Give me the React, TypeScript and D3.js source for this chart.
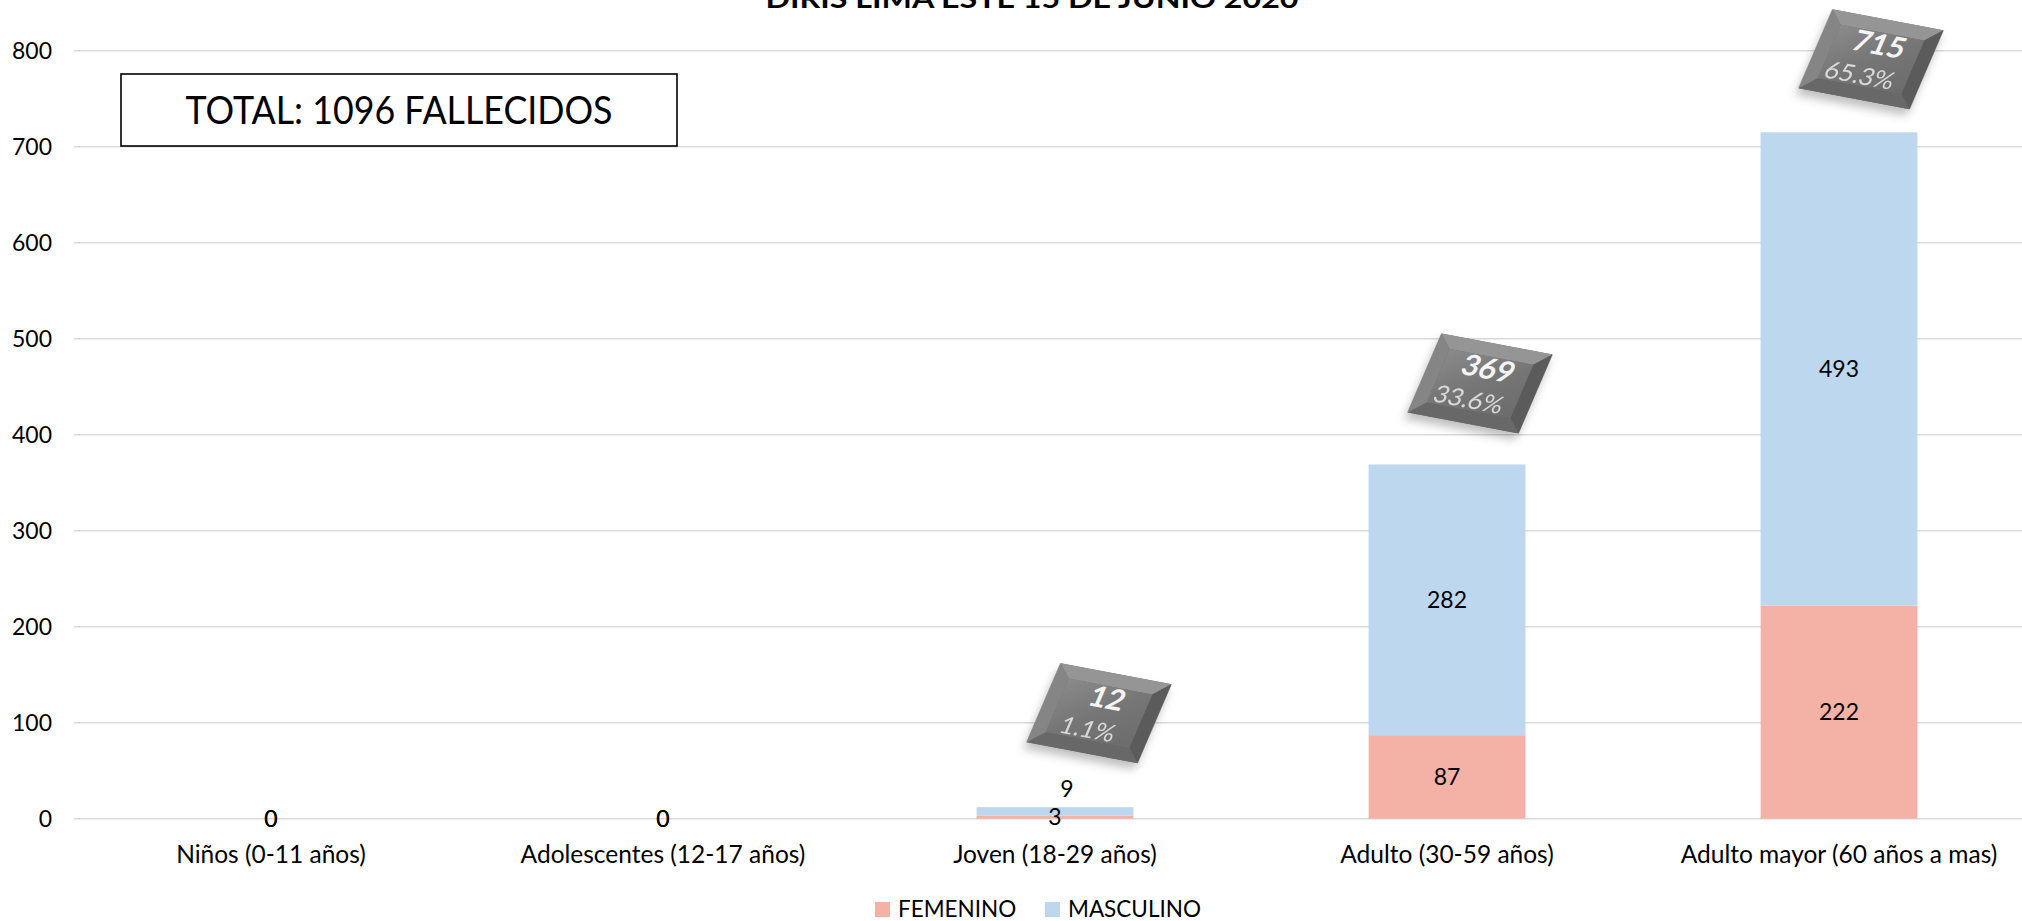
import React from "react";
import * as d3 from "d3";

// ---------- data ----------
const categories = [
  "Niños (0-11 años)",
  "Adolescentes (12-17 años)",
  "Joven (18-29 años)",
  "Adulto (30-59 años)",
  "Adulto mayor (60 años a mas)",
];
const femenino = [0, 0, 3, 87, 222];
const masculino = [0, 0, 9, 282, 493];
const percentLabels = ["0.0%", "0.0%", "1.1%", "33.6%", "65.3%"];
const seriesNames = ["FEMENINO", "MASCULINO"];
const yTicks = [0, 100, 200, 300, 400, 500, 600, 700, 800];
const titleText = "DIRIS LIMA ESTE 15 DE JUNIO 2020";
const totalNote = "TOTAL: 1096 FALLECIDOS";

// ---------- layout / style ----------
const W = 2022;
const H = 921;
const FONT = "Lato, 'Open Sans', sans-serif";
const COLORS: Record<string, string> = { FEMENINO: "#F4B2A6", MASCULINO: "#BDD7EE" };
const GRID = "#d9d9d9";
// callout placement relative to the top-center of each bar
const calloutOffset = [
  { dx: 0, dy: 0 },
  { dx: 0, dy: 0 },
  { dx: 44, dy: -94 },
  { dx: 33, dy: -81 },
  { dx: 32, dy: -73 },
];
// manual nudges of single data labels (category index - series index)
const labelNudge: Record<string, { dx: number; dy: number }> = {
  "2-1": { dx: 12, dy: -23 },
};

export default function App() {
  const x = d3.scaleBand<string>().domain(categories).range([75, 2035]).paddingInner(0.6).paddingOuter(0.3);
  const y = d3.scaleLinear().domain([0, 800]).range([818.7, 50.7]);

  const rows = categories.map((c, i) => ({ cat: c, FEMENINO: femenino[i], MASCULINO: masculino[i] }));
  const stacked = d3.stack<any>().keys(seriesNames)(rows);
  const totals = categories.map((_, i) => femenino[i] + masculino[i]);

  const bw = x.bandwidth();
  const CW = 113;
  const CH = 86;
  const B = 14;
  const o = { tl: [-CW / 2, -CH / 2], tr: [CW / 2, -CH / 2], br: [CW / 2, CH / 2], bl: [-CW / 2, CH / 2] };
  const i_ = {
    tl: [-CW / 2 + B, -CH / 2 + B],
    tr: [CW / 2 - B, -CH / 2 + B],
    br: [CW / 2 - B, CH / 2 - B],
    bl: [-CW / 2 + B, CH / 2 - B],
  };
  const poly = (pts: number[][]) => pts.map((p) => p.join(",")).join(" ");

  return (
    <svg
      width={W}
      height={H}
      style={{ position: "absolute", left: 0, top: 0, background: "#fff" }}
      fontFamily={FONT}
    >
      <defs>
        <linearGradient id="face" x1="0" y1="0" x2="1" y2="1">
          <stop offset="0" stopColor="#8a8a8a" />
          <stop offset="0.5" stopColor="#767676" />
          <stop offset="1" stopColor="#6c6c6c" />
        </linearGradient>
        <filter id="shadow" x="-30%" y="-30%" width="160%" height="170%">
          <feDropShadow dx="0" dy="7" stdDeviation="5" floodColor="#000" floodOpacity="0.25" />
        </filter>
      </defs>

      {/* title (cut at top, as in the source) */}
      <text x={1032} y={8} textAnchor="middle" fontWeight="bold" fontSize={27} textLength={533} lengthAdjust="spacingAndGlyphs" fill="#000">
        {titleText}
      </text>

      {/* gridlines */}
      {yTicks.map((t) => (
        <line key={t} x1={74} x2={W} y1={y(t)} y2={y(t)} stroke={GRID} strokeWidth={1.6} />
      ))}
      {/* y tick labels */}
      {yTicks.map((t) => (
        <text key={"yt" + t} x={52} y={y(t)} dy="0.35em" textAnchor="end" fontSize={23} fill="#000">
          {t}
        </text>
      ))}

      {/* bars */}
      {stacked.map((s) =>
        s.map((d, i) => (
          <rect
            key={s.key + i}
            x={x(categories[i])!}
            y={y(d[1])}
            width={bw}
            height={Math.max(0, y(d[0]) - y(d[1]))}
            fill={COLORS[s.key]}
          />
        ))
      )}

      {/* data labels */}
      {stacked.map((s, si) =>
        s.map((d, i) => {
          const nudge = labelNudge[`${i}-${si}`] || { dx: 0, dy: 0 };
          const cx = x(categories[i])! + bw / 2 + nudge.dx;
          const cy = (y(d[0]) + y(d[1])) / 2 + nudge.dy;
          return (
            <text key={"l" + s.key + i} x={cx} y={cy} dy="0.35em" textAnchor="middle" fontSize={23} fill="#000">
              {d[1] - d[0]}
            </text>
          );
        })
      )}

      {/* category labels */}
      {categories.map((c) => (
        <text key={"c" + c} x={x(c)! + bw / 2} y={863} textAnchor="middle" fontSize={24.5} fill="#000">
          {c}
        </text>
      ))}

      {/* callouts */}
      {categories.map((c, i) => {
        if (totals[i] === 0) return null;
        const cx = x(c)! + bw / 2 + calloutOffset[i].dx;
        const cy = y(totals[i]) + calloutOffset[i].dy;
        return (
          <g key={"co" + c} transform={`matrix(0.982,0.186,-0.395,0.919,${cx},${cy})`}>
            <g filter="url(#shadow)">
              <polygon points={poly([o.tl, o.tr, o.br, o.bl])} fill="#6f6f6f" />
            </g>
            <polygon points={poly([o.tl, o.tr, i_.tr, i_.tl])} fill="#959595" />
            <polygon points={poly([o.tr, o.br, i_.br, i_.tr])} fill="#5b5b5b" />
            <polygon points={poly([o.br, o.bl, i_.bl, i_.br])} fill="#686868" />
            <polygon points={poly([o.bl, o.tl, i_.tl, i_.bl])} fill="#858585" />
            <polygon points={poly([i_.tl, i_.tr, i_.br, i_.bl])} fill="url(#face)" />
            <text x={2} y={-6} textAnchor="middle" fontSize={30} fontWeight="bold" fill="#f4f4f4">
              {totals[i]}
            </text>
            <text x={-4} y={27} textAnchor="middle" fontSize={25} fill="#e4e4e4" opacity={0.9}>
              {percentLabels[i]}
            </text>
          </g>
        );
      })}

      {/* total note box */}
      <rect x={121} y={74} width={556} height={72} fill="#fff" stroke="#000" strokeWidth={1.6} />
      <text x={399} y={124} textAnchor="middle" fontSize={39} textLength={427} lengthAdjust="spacingAndGlyphs" fill="#000">
        {totalNote}
      </text>

      {/* legend */}
      {seriesNames.map((n, k) => {
        const lx = [875, 1045][k];
        return (
          <g key={"lg" + n}>
            <rect x={lx} y={902} width={15} height={15} fill={COLORS[n]} />
            <text x={lx + 23} y={917} fontSize={22.5} fill="#000">
              {n}
            </text>
          </g>
        );
      })}
    </svg>
  );
}
